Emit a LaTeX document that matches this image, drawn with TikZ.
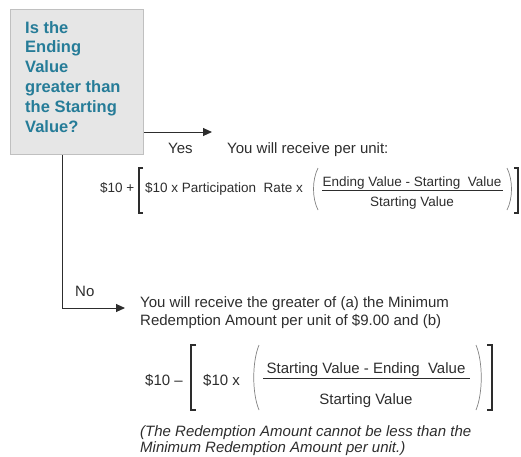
\documentclass[tikz,border=0pt]{standalone}
\usepackage{fontspec}
\setmainfont{Liberation Sans}
\usetikzlibrary{arrows.meta}
\definecolor{qteal}{RGB}{38,124,152}
\definecolor{qgray}{RGB}{230,230,230}
\definecolor{qedge}{RGB}{192,192,192}
\definecolor{ink}{RGB}{45,45,45}

\begin{document}
\begin{tikzpicture}[>={Triangle[length=9pt,width=8pt]}, x=1pt, y=-1pt,
    txt/.style={inner sep=0pt, text=ink, font=\fontsize{15}{18}\selectfont},
    small/.style={inner sep=0pt, text=ink, font=\fontsize{13.5}{16}\selectfont},
    brk/.style={ink, line width=1.2pt},
    paren/.style={ink!60, line width=0.7pt},
    flow/.style={ink, line width=1pt}]
        \useasboundingbox (0,0) rectangle (521,456);
        % question box
        \node[draw=qedge, fill=qgray, line width=1pt, minimum width=133pt, minimum height=145pt, anchor=north west, inner sep=0pt] (q) at (10,9) {};
        \node[anchor=north west, inner sep=0pt, align=left, text=qteal, font=\bfseries\fontsize{16.5}{19.8}\selectfont] (qtext) at (25,21) {Is the\\Ending\\Value\\greater than\\the Starting\\Value?};
        % yes branch
        \coordinate (yesTip) at (212,132);
        \draw[flow, ->] (q.east |- yesTip) -- (yesTip);
        \node[txt, anchor=base west] (yes) at (168,153) {Yes};
        \node[txt, anchor=base west] (gain) at (227,153) {You will receive per unit:};
        \node[small, anchor=base west] (f1lead) at (100,192) {\$10 +};
        \draw[brk] (143,168) -- (139,168) -- (139,213) -- (143,213);
        \node[small, anchor=base west] (f1mid) at (145,192) {\$10 x Participation\ \ Rate x};
        \draw[paren] (318,168) .. controls (312,180) and (312,198) .. (318,210);
        \node[small, anchor=base] (f1num) at (412,186) {Ending Value - Starting\ \ Value};
        \draw[ink, line width=1pt] (322,190) -- (503,190);
        \node[small, anchor=base] (f1den) at (412,206) {Starting Value};
        \draw[paren] (507,168) .. controls (513,180) and (513,198) .. (507,210);
        \draw[brk] (514,168) -- (518,168) -- (518,213) -- (514,213);
        % no branch
        \coordinate (noBend) at (62,308);
        \coordinate (noTip) at (125,308);
        \draw[flow, ->] (q.south -| noBend) -- (noBend) -- (noTip);
        \node[txt, anchor=base west] (no) at (75,296) {No};
        \node[txt, anchor=north west, align=left] (loss) at (140,296) {You will receive the greater of (a) the Minimum\\Redemption Amount per unit of \$9.00 and (b)};
        \node[txt, anchor=base west] (f2lead) at (145,385) {\$10 --};
        \draw[brk] (196,345) -- (191,345) -- (191,410) -- (196,410);
        \node[txt, anchor=base west] (f2mid) at (203,385) {\$10 x};
        \draw[paren] (259,345) .. controls (252,362) and (252,393) .. (259,410);
        \node[txt, anchor=base] (f2num) at (366,373) {Starting Value - Ending\ \ Value};
        \draw[ink, line width=1pt] (263,378) -- (470,378);
        \node[txt, anchor=base] (f2den) at (366,404) {Starting Value};
        \draw[paren] (476,345) .. controls (483,362) and (483,393) .. (476,410);
        \draw[brk] (487,345) -- (492,345) -- (492,410) -- (487,410);
        \node[txt, anchor=north west, align=left, font=\itshape\fontsize{15}{16.5}\selectfont] (note) at (140,425) {(The Redemption Amount cannot be less than the\\Minimum Redemption Amount per unit.)};
\end{tikzpicture}
\end{document}
